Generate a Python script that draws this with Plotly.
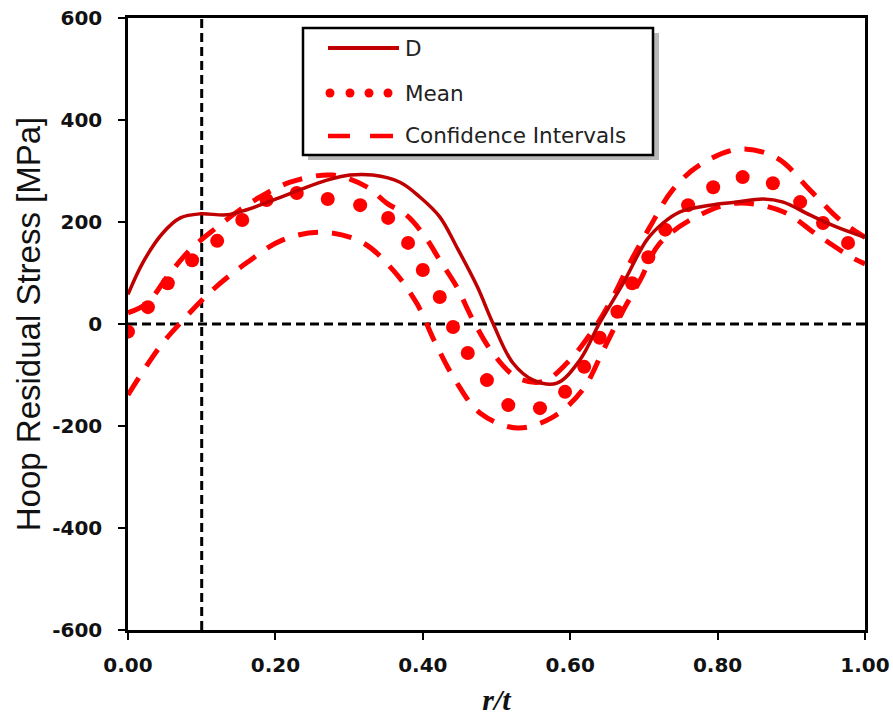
import plotly.graph_objects as go

# ---- data ----
d_x = [0.0, 0.02, 0.047, 0.071, 0.098, 0.134, 0.161, 0.197, 0.233, 0.27, 0.301, 0.332,
       0.369, 0.396, 0.423, 0.446, 0.474, 0.495, 0.522, 0.55, 0.582, 0.613, 0.64, 0.672,
       0.704, 0.726, 0.749, 0.79, 0.826, 0.862, 0.889, 0.925, 0.962, 1.0]
d_y = [58, 120, 178, 208, 216, 214, 224, 243, 263, 282, 292, 292,
       278, 249, 210, 151, 73, 2, -76, -110, -116, -71, 2, 80,
       165, 198, 220, 233, 239, 245, 239, 214, 190, 170]

mean_x = [0.0, 0.027, 0.054, 0.087, 0.121, 0.155, 0.188, 0.229, 0.271, 0.315, 0.353, 0.38,
          0.4, 0.423, 0.441, 0.461, 0.487, 0.516, 0.559, 0.593, 0.619, 0.64, 0.664, 0.684,
          0.706, 0.729, 0.76, 0.794, 0.834, 0.875, 0.912, 0.943, 0.977]
mean_y = [-15, 33, 80, 125, 163, 204, 243, 257, 245, 233, 208, 159,
          106, 53, -6, -57, -110, -159, -165, -133, -84, -27, 24, 80,
          131, 185, 233, 268, 288, 276, 239, 198, 159]

ciu_x = [0.0, 0.026, 0.053, 0.084, 0.121, 0.152, 0.179, 0.22, 0.278, 0.324, 0.351, 0.379,
         0.406, 0.423, 0.446, 0.468, 0.495, 0.528, 0.563, 0.596, 0.631, 0.658, 0.681, 0.708,
         0.739, 0.776, 0.83, 0.881, 0.925, 0.966, 1.0]
ciu_y = [22, 41, 92, 145, 190, 224, 249, 278, 292, 269, 237, 212,
         165, 125, 73, 8, -57, -105, -113, -76, -12, 53, 120, 190,
         263, 312, 343, 325, 263, 204, 170]

cil_x = [0.0, 0.043, 0.071, 0.115, 0.161, 0.21, 0.265, 0.319, 0.36, 0.392, 0.417, 0.444,
         0.478, 0.529, 0.577, 0.617, 0.645, 0.672, 0.695, 0.722, 0.776, 0.826, 0.889, 0.935,
         0.984, 1.0]
cil_y = [-139, -45, 2, 67, 120, 165, 180, 159, 105, 40, -37, -110,
         -175, -204, -182, -129, -51, 27, 86, 159, 214, 237, 220, 175,
         129, 118]

x_ticks = [0.0, 0.2, 0.4, 0.6, 0.8, 1.0]
x_tick_text = ["0.00", "0.20", "0.40", "0.60", "0.80", "1.00"]
y_ticks = [-600, -400, -200, 0, 200, 400, 600]
y_tick_text = ["-600", "-400", "-200", "0", "200", "400", "600"]
ref_x = 0.1
ref_y = 0

DARK_RED = "#C00000"
RED = "#FF0000"

fig = go.Figure()
fig.add_trace(go.Scatter(x=cil_x, y=cil_y, mode="lines", line=dict(color=RED, width=5, dash="20px,14px", shape="spline"),
                         showlegend=False))
fig.add_trace(go.Scatter(x=ciu_x, y=ciu_y, mode="lines", line=dict(color=RED, width=5, dash="20px,14px", shape="spline"),
                         showlegend=False))
fig.add_trace(go.Scatter(x=mean_x, y=mean_y, mode="markers", marker=dict(color=RED, size=14, line=dict(width=0)),
                         showlegend=False))
fig.add_trace(go.Scatter(x=d_x, y=d_y, mode="lines", line=dict(color=DARK_RED, width=3.5, shape="spline"),
                         showlegend=False))

# reference dashed lines
fig.add_shape(type="line", xref="x", yref="y", x0=0, x1=1, y0=ref_y, y1=ref_y,
              line=dict(color="black", width=3, dash="9px,5px"), layer="below")
fig.add_shape(type="line", xref="x", yref="y", x0=ref_x, x1=ref_x, y0=-600, y1=600,
              line=dict(color="black", width=3, dash="9px,5px"), layer="below")

# ---- manual legend (pixel helpers; page px -> paper) ----
L, T, W, H = 128, 18, 737, 612
def px(v):
    return (v - L) / W
def py(v):
    return 1 - (v - T) / H

fig.add_shape(type="rect", xref="paper", yref="paper", x0=px(308), x1=px(659), y0=py(160), y1=py(33),
              line=dict(width=0), fillcolor="rgba(0,0,0,0.28)", layer="above")
fig.add_shape(type="rect", xref="paper", yref="paper", x0=px(303), x1=px(653), y0=py(155), y1=py(28),
              line=dict(color="black", width=2.5), fillcolor="white", layer="above")
fig.add_shape(type="line", xref="paper", yref="paper", x0=px(328), x1=px(399), y0=py(48), y1=py(48),
              line=dict(color=DARK_RED, width=4), layer="above")
for cx in [330, 350, 369, 388]:
    fig.add_shape(type="circle", xref="paper", yref="paper", x0=px(cx - 4.5), x1=px(cx + 4.5),
                  y0=py(93 + 4.5), y1=py(93 - 4.5), line=dict(width=0), fillcolor=RED, layer="above")
for a, b in [(328, 350), (370, 393)]:
    fig.add_shape(type="line", xref="paper", yref="paper", x0=px(a), x1=px(b), y0=py(136), y1=py(136),
                  line=dict(color=RED, width=4.5), layer="above")
for label, yy in [("D", 48), ("Mean", 93), ("Confidence Intervals", 135)]:
    fig.add_annotation(xref="paper", yref="paper", x=px(403), y=py(yy), text=label, showarrow=False,
                       xanchor="left", yanchor="middle", font=dict(family="DejaVu Sans", size=21.5, color="#222"))

axis_common = dict(showline=True, linecolor="black", linewidth=2.5, mirror=True, showgrid=False,
                   zeroline=False, ticks="outside", ticklen=7, tickwidth=2, tickcolor="black",
                   automargin=False, ticklabeloverflow="allow",
                   tickfont=dict(family="DejaVu Sans", size=20, color="#111", weight="bold"))

fig.update_layout(
    width=893, height=717,
    margin=dict(l=128, r=28, t=18, b=87),
    paper_bgcolor="white", plot_bgcolor="white",
    xaxis=dict(range=[0, 1], tickvals=x_ticks, ticktext=x_tick_text, ticklabelstandoff=8,
               title=dict(text="<b><i>r/t</i></b>", font=dict(family="Liberation Serif", size=30, color="#111"), standoff=14),
               **axis_common),
    yaxis=dict(range=[-600, 600], tickvals=y_ticks, ticktext=y_tick_text, ticklabelstandoff=12,
               title=dict(text="Hoop Residual Stress [MPa]", font=dict(family="Liberation Sans", size=33, color="#111"), standoff=2),
               **axis_common),
)

# remove the browser's default 8px body margin so the 893x717 figure fills the window
fig.write_html("out.html", config={"displayModeBar": False},
               post_script="document.body.style.margin='0px';")
